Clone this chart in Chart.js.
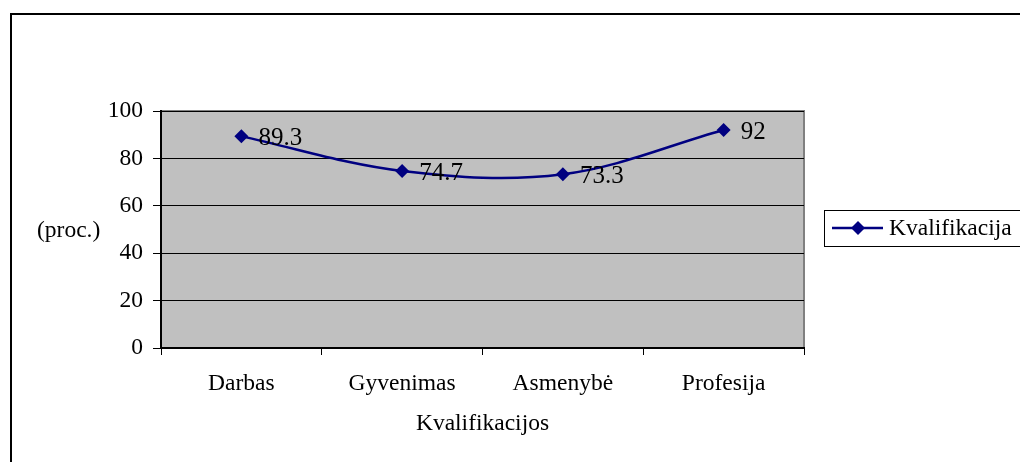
<!DOCTYPE html>
<html>
<head>
<meta charset="utf-8">
<script src="https://cdn.jsdelivr.net/npm/chart.js@4"></script>
<style>
  html, body { margin: 0; padding: 0; background: #fff; }
  #wrap { width: 1020px; height: 462px; }
</style>
</head>
<body>
<div id="wrap"><canvas id="c" width="1020" height="462"></canvas></div>
<script>
const categories = ['Darbas', 'Gyvenimas', 'Asmenybė', 'Profesija'];
const values = [89.3, 74.7, 73.3, 92];
const labels = ['89.3', '74.7', '73.3', '92'];
const seriesName = 'Kvalifikacija';
const yTicks = [0, 20, 40, 60, 80, 100];

const FONT = "'Liberation Serif', 'Times New Roman', serif";
const NAVY = '#000080';
const FS = 23.5;

// plot background, outer frame, y title, legend, data labels
const decor = {
  id: 'decor',
  beforeDraw(chart) {
    const { ctx, chartArea: a } = chart;
    ctx.save();
    ctx.fillStyle = '#fff';
    ctx.fillRect(0, 0, chart.width, chart.height);
    ctx.strokeStyle = '#000';
    ctx.lineWidth = 2;
    ctx.strokeRect(11, 14, 1100, 600);
    ctx.fillStyle = '#C0C0C0';
    ctx.fillRect(a.left, a.top, a.right - a.left, a.bottom - a.top);
    ctx.strokeStyle = '#808080';
    ctx.lineWidth = 2;
    ctx.beginPath();
    ctx.moveTo(a.left, a.top);
    ctx.lineTo(a.right, a.top);
    ctx.lineTo(a.right, a.bottom);
    ctx.stroke();
    ctx.restore();
  },
  afterDraw(chart) {
    const { ctx } = chart;
    ctx.save();
    ctx.fillStyle = '#000';
    ctx.font = FS + 'px ' + FONT;
    ctx.textBaseline = 'middle';
    ctx.textAlign = 'left';
    ctx.fillText('(proc.)', 37, 231);

    // legend
    ctx.strokeStyle = '#000';
    ctx.lineWidth = 1;
    ctx.strokeRect(824.5, 210.5, 220, 36);
    ctx.strokeStyle = NAVY;
    ctx.lineWidth = 2.5;
    ctx.beginPath();
    ctx.moveTo(832, 228);
    ctx.lineTo(883, 228);
    ctx.stroke();
    ctx.fillStyle = NAVY;
    ctx.beginPath();
    ctx.moveTo(858, 221);
    ctx.lineTo(865, 228);
    ctx.lineTo(858, 235);
    ctx.lineTo(851, 228);
    ctx.closePath();
    ctx.fill();
    ctx.fillStyle = '#000';
    ctx.fillText(seriesName, 889, 229);

    // data labels
    const meta = chart.getDatasetMeta(0);
    ctx.font = '25px ' + FONT;
    meta.data.forEach((p, i) => {
      ctx.fillText(labels[i], p.x + 17, p.y + 2);
    });
    ctx.restore();
  }
};

new Chart(document.getElementById('c').getContext('2d'), {
  type: 'line',
  data: {
    labels: categories,
    datasets: [{
      label: seriesName,
      data: values,
      borderColor: NAVY,
      backgroundColor: NAVY,
      borderWidth: 2.5,
      tension: 0.35,
      pointStyle: 'rectRot',
      pointRadius: 7,
      pointBorderWidth: 0,
      pointHoverRadius: 7,
      fill: false
    }]
  },
  options: {
    responsive: false,
    animation: false,
    events: [],
    layout: { padding: { top: 111, right: 216, left: 0, bottom: 0 } },
    plugins: { legend: { display: false }, tooltip: { enabled: false } },
    scales: {
      x: {
        offset: true,
        afterFit: s => { s.height = 114; },
        border: { color: '#000', width: 2 },
        grid: { offset: true, drawOnChartArea: false, tickLength: 7, color: '#000', lineWidth: 1 },
        ticks: { color: '#000', font: { size: FS, family: FONT }, padding: 15, maxRotation: 0 },
        title: {
          display: true,
          text: 'Kvalifikacijos',
          color: '#000',
          font: { size: FS, family: FONT },
          padding: { top: 0, bottom: 24 }
        }
      },
      y: {
        min: 0,
        max: 100,
        afterFit: s => { s.width = 161; },
        afterBuildTicks: s => { s.ticks = yTicks.map(v => ({ value: v })); },
        border: { color: '#000', width: 2 },
        grid: { color: '#000', lineWidth: 1, tickLength: 8 },
        ticks: { color: '#000', font: { size: FS, family: FONT }, padding: 10 }
      }
    }
  },
  plugins: [decor]
});
</script>
</body>
</html>
